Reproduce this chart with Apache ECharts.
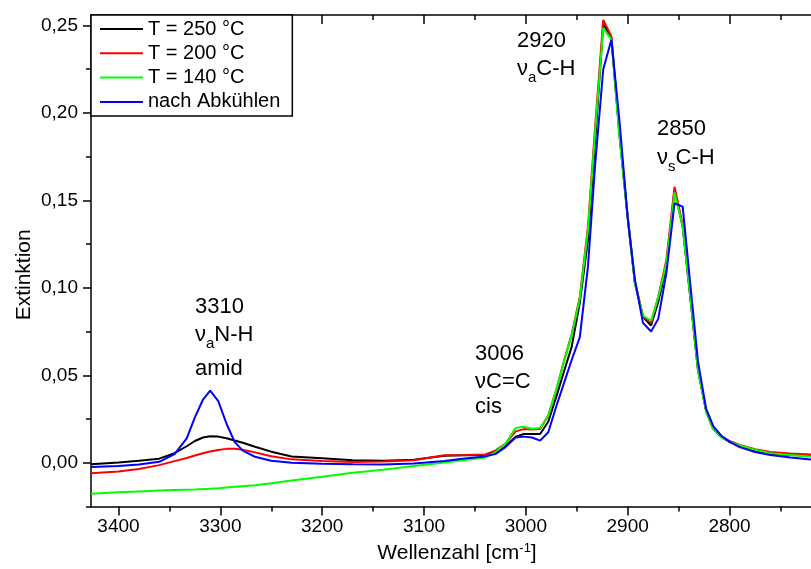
<!DOCTYPE html>
<html>
<head>
<meta charset="utf-8">
<script src="https://cdn.jsdelivr.net/npm/echarts@6/dist/echarts.min.js"></script>
<style>
html,body{margin:0;padding:0;background:#fff;}
#chart{width:811px;height:569px;}
</style>
</head>
<body>
<div id="chart"></div>
<script>
const wavenumber = [3427, 3400, 3380, 3360, 3345, 3333, 3325, 3317, 3310, 3302,
  3294, 3286, 3278, 3266, 3250, 3230, 3200, 3170, 3140, 3110,
  3080, 3060, 3040, 3030, 3020, 3010, 3002, 2994, 2986, 2978,
  2970, 2962, 2955, 2947, 2939, 2932, 2924, 2916, 2908, 2900,
  2893, 2885, 2877, 2870, 2862, 2854, 2846, 2839, 2831, 2823,
  2816, 2808, 2800, 2790, 2775, 2760, 2740, 2720];

const t250 = [-0.0008, 0.0002, 0.0012, 0.0024, 0.0055, 0.0095, 0.0125, 0.0145, 0.0152, 0.0150,
  0.0141, 0.0128, 0.0115, 0.0092, 0.0064, 0.0036, 0.0027, 0.0015, 0.0012, 0.0018,
  0.0040, 0.0043, 0.0045, 0.0060, 0.0095, 0.0150, 0.0165, 0.0165, 0.0165, 0.0235,
  0.0380, 0.0532, 0.0663, 0.0916, 0.1274, 0.1830, 0.2510, 0.2430, 0.1870, 0.1400,
  0.1030, 0.0835, 0.0785, 0.0920, 0.1120, 0.1560, 0.1350, 0.0970, 0.0530, 0.0296,
  0.0193, 0.0147, 0.0120, 0.0098, 0.0070, 0.0052, 0.0045, 0.0040];

const t200 = [-0.0060, -0.0050, -0.0035, -0.0013, 0.0010, 0.0028, 0.0042, 0.0055, 0.0065, 0.0074,
  0.0080, 0.0080, 0.0075, 0.0060, 0.0038, 0.0020, 0.0011, 0.0005, 0.0008, 0.0015,
  0.0043, 0.0045, 0.0048, 0.0070, 0.0110, 0.0180, 0.0193, 0.0190, 0.0193, 0.0270,
  0.0420, 0.0595, 0.0735, 0.0950, 0.1350, 0.1920, 0.2532, 0.2438, 0.1880, 0.1410,
  0.1040, 0.0840, 0.0800, 0.0950, 0.1160, 0.1578, 0.1360, 0.0980, 0.0540, 0.0300,
  0.0195, 0.0150, 0.0125, 0.0102, 0.0078, 0.0062, 0.0053, 0.0048];

const t140 = [-0.0177, -0.0168, -0.0163, -0.0158, -0.0155, -0.0153, -0.0152, -0.0150, -0.0148, -0.0145,
  -0.0141, -0.0137, -0.0133, -0.0128, -0.0117, -0.0101, -0.0080, -0.0056, -0.0040, -0.0018,
  0.0002, 0.0017, 0.0030, 0.0060, 0.0110, 0.0200, 0.0206, 0.0195, 0.0200, 0.0268,
  0.0420, 0.0590, 0.0730, 0.0940, 0.1330, 0.1890, 0.2485, 0.2419, 0.1860, 0.1400,
  0.1030, 0.0841, 0.0813, 0.0945, 0.1142, 0.1546, 0.1350, 0.0973, 0.0530, 0.0296,
  0.0193, 0.0147, 0.0120, 0.0100, 0.0075, 0.0055, 0.0045, 0.0037];

const cooled = [-0.0023, -0.0018, -0.0010, 0.0006, 0.0050, 0.0140, 0.0260, 0.0362, 0.0413, 0.0353,
  0.0225, 0.0120, 0.0070, 0.0035, 0.0012, 0.0000, -0.0005, -0.0008, -0.0009, -0.0004,
  0.0010, 0.0025, 0.0037, 0.0050, 0.0090, 0.0145, 0.0150, 0.0145, 0.0127, 0.0175,
  0.0325, 0.0466, 0.0588, 0.0719, 0.1123, 0.1700, 0.2250, 0.2419, 0.1950, 0.1400,
  0.1050, 0.0800, 0.0751, 0.0823, 0.1085, 0.1484, 0.1465, 0.1050, 0.0580, 0.0310,
  0.0210, 0.0155, 0.0120, 0.0090, 0.0062, 0.0045, 0.0030, 0.0019];

const seriesNames = ['T = 250 °C', 'T = 200 °C', 'T = 140 °C', 'nach Abkühlen'];
const seriesColors = ['#000000', '#ff0000', '#00ff00', '#0000ff'];

const xMajorTicks = [3400, 3300, 3200, 3100, 3000, 2900, 2800];
const xMinorTicks = [3350, 3250, 3150, 3050, 2950, 2850, 2750];
const yMajorTicks = [0, 0.05, 0.10, 0.15, 0.20, 0.25];
const yMinorTicks = [-0.025, 0.025, 0.075, 0.125, 0.175, 0.225];

const FONT = 'Liberation Sans, Arial, sans-serif';
const X_MIN = 2720, X_MAX = 3427;
const Y_MIN = -0.025, Y_MAX = 0.256;

const axisLineStyle = {color: '#000', width: 1.5};

function xAxisDef(pos, ticks, len, inside, showLine, showLabel) {
  return {
    type: 'value', position: pos, inverse: true, min: X_MIN, max: X_MAX,
    axisLine: {show: showLine, onZero: false, lineStyle: axisLineStyle},
    axisTick: {show: true, inside: inside, length: len, customValues: ticks, lineStyle: axisLineStyle},
    axisLabel: showLabel ? {show: true, customValues: ticks, color: '#000', fontFamily: FONT, fontSize: 19, margin: 11,
      formatter: v => String(Math.round(v))} : {show: false},
    splitLine: {show: false}
  };
}
function yAxisDef(ticks, len, showLine, showLabel) {
  return {
    type: 'value', position: 'left', min: Y_MIN, max: Y_MAX,
    axisLine: {show: showLine, onZero: false, lineStyle: axisLineStyle},
    axisTick: {show: true, length: len, customValues: ticks, lineStyle: axisLineStyle},
    axisLabel: showLabel ? {show: true, customValues: ticks, color: '#000', fontFamily: FONT, fontSize: 19, margin: 13,
      formatter: v => v.toFixed(2).replace('.', ',')} : {show: false},
    splitLine: {show: false}
  };
}

const xAxes = [
  xAxisDef('bottom', xMajorTicks, 9, false, true, true),
  xAxisDef('bottom', xMinorTicks, 5, false, false, false),
  xAxisDef('top', xMajorTicks, 9, true, true, false),
  xAxisDef('top', xMinorTicks, 5, true, false, false)
];
Object.assign(xAxes[0], {
  name: '{a|Wellenzahl [cm}{b|-1}{a|]}', nameLocation: 'middle', nameGap: 30,
  nameTextStyle: {padding: [0, 0, 0, 12], rich: {
    a: {fontFamily: FONT, fontSize: 21, color: '#000', lineHeight: 24},
    b: {fontFamily: FONT, fontSize: 13, color: '#000', lineHeight: 13, verticalAlign: 'top'}
  }}
});
const yAxes = [
  yAxisDef(yMajorTicks, 8, true, true),
  yAxisDef(yMinorTicks, 5, false, false)
];
Object.assign(yAxes[0], {
  name: 'Extinktion', nameLocation: 'middle', nameGap: 56, nameRotate: 90, nameMoveOverlap: false,
  nameTextStyle: {fontFamily: FONT, fontSize: 21, color: '#000', padding: [0, 28, 0, 0]}
});

const allValues = [t250, t200, t140, cooled];
const series = allValues.map((vals, k) => ({
  name: seriesNames[k], type: 'line', xAxisIndex: 0, yAxisIndex: 0,
  symbol: 'none', smooth: false, animation: false,
  lineStyle: {color: seriesColors[k], width: 2},
  itemStyle: {color: seriesColors[k]},
  data: wavenumber.map((w, i) => [w, vals[i]])
}));

const annFont = {fontFamily: FONT, fontSize: 22, fill: '#000'};
function plain(text, x, y) {
  return {type: 'text', x: x, y: y, z: 100, style: Object.assign({text: text, verticalAlign: 'middle', align: 'left'}, annFont)};
}
function withSub(pre, sub, post, x, y) {
  return {type: 'text', x: x, y: y, z: 100, style: {
    text: '{m|' + pre + '}{s|' + sub + '}{m|' + post + '}', verticalAlign: 'middle', align: 'left',
    fontFamily: FONT, fontSize: 22, fill: '#000',
    rich: {
      m: {fontFamily: FONT, fontSize: 22, lineHeight: 32, fill: '#000', color: '#000'},
      s: {fontFamily: FONT, fontSize: 15, lineHeight: 15, verticalAlign: 'bottom', fill: '#000', color: '#000'}
    }
  }};
}

const chart = echarts.init(document.getElementById('chart'), null, {renderer: 'canvas'});
chart.setOption({
  animation: false,
  backgroundColor: '#fff',
  grid: {left: 91, right: 0, top: 15, bottom: 56, containLabel: false},
  xAxis: xAxes,
  yAxis: yAxes,
  legend: {
    show: true, orient: 'vertical', left: 91, top: 15, z: 10,
    backgroundColor: '#fff', borderColor: '#000', borderWidth: 1.5,
    padding: [4, 12, 4, 9], itemGap: 4.3, itemWidth: 43, itemHeight: 2, itemTextGap: 6,
    icon: 'rect',
    textStyle: {fontFamily: FONT, fontSize: 20, color: '#000', lineHeight: 20},
    data: seriesNames
  },
  series: series,
  graphic: [
    plain('3310', 195, 307.4),
    withSub('ν', 'a', 'N-H', 195, 335.4),
    plain('amid', 195, 369.4),
    plain('3006', 475, 354.1),
    plain('νC=C', 475, 381.7),
    plain('cis', 475, 407.4),
    plain('2920', 517, 40.7),
    withSub('ν', 'a', 'C-H', 517, 69.1),
    plain('2850', 657, 129.1),
    withSub('ν', 's', 'C-H', 657, 158.1)
  ]
});
</script>
</body>
</html>
